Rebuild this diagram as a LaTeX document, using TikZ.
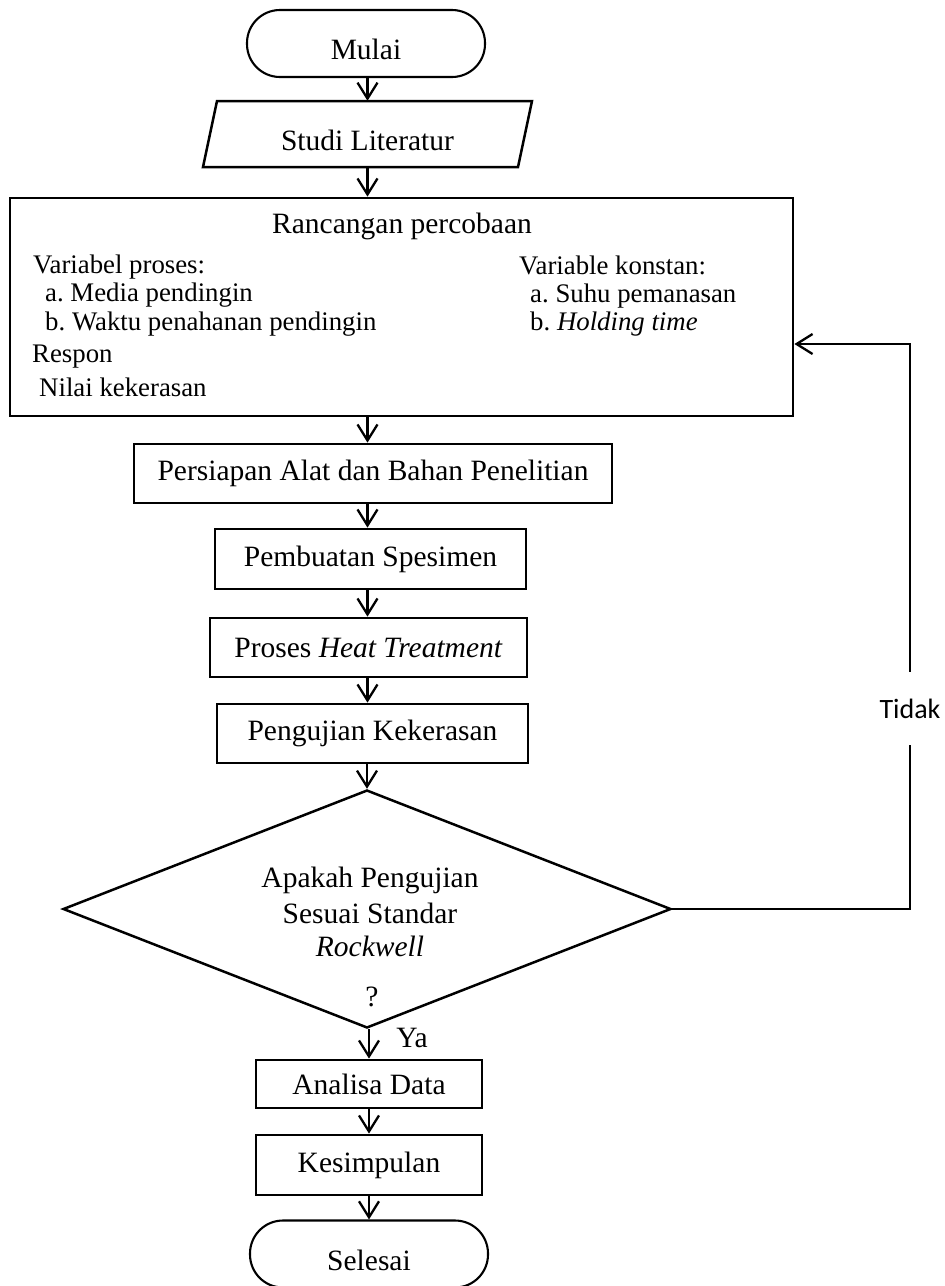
\documentclass[tikz,border=0pt]{standalone}
\usepackage{fontspec}
\setmainfont{Liberation Serif}
\newfontfamily\tidakfont{Carlito}
\usetikzlibrary{arrows.meta,shapes.geometric}
\newcommand\fsbig{\fontsize{29.5}{34}\selectfont}
\newcommand\fssmall{\fontsize{26.8}{31}\selectfont}
\frenchspacing
\begin{document}
\begin{tikzpicture}[x=1pt,y=-1pt,
  every node/.style={font=\fsbig},
  line/.style={line width=2.5pt},
  arr/.style={line width=2.3pt,-{Straight Barb[length=16pt,width=20pt]}},
  term/.style={draw,line width=2.1pt,rounded corners=33pt,minimum width=238pt,minimum height=67pt,inner sep=0pt,text height=32pt,text depth=0pt},
  proc/.style={draw,line width=2.8pt,inner sep=0pt},
  item/.style={font=\fssmall,anchor=base west,inner sep=0pt},
  dtext/.style={inner sep=0pt},
]
\useasboundingbox (0,0) rectangle (945,1286);
\coordinate (ax) at (367.5,0);
\coordinate (bx) at (369,0);

% start
\node[term] (mulai) at (366,43.5) {Mulai};

% Studi Literatur (parallelogram)
\node[minimum width=315pt,minimum height=66pt,inner sep=0pt,text height=32pt,text depth=0pt] (studi) at (367.5,134) {Studi Literatur};
\draw[line] (217,101) -- (532,101) -- (518,167) -- (203,167) -- cycle;

% Rancangan percobaan
\node[proc,minimum width=783pt,minimum height=218pt] (rancang) at (401.5,307) {};
\node[anchor=base,inner sep=0pt] (rtitle) at (402,233) {Rancangan percobaan};
\node[item] (vp) at (33,273) {Variabel proses:};
\node[item] (vpa) at (45,301) {a. Media pendingin};
\node[item] (vpb) at (45,330) {b. Waktu penahanan pendingin};
\node[item] (resp) at (32,362) {Respon};
\node[item] (nk) at (39,396) {Nilai kekerasan};
\node[item] (vk) at (519,274) {Variable konstan:};
\node[item] (vka) at (530,302) {a. Suhu pemanasan};
\node[item] (vkb) at (530,330) {b. \textit{Holding time}};

% process boxes
\node[proc,minimum width=478pt,minimum height=59pt] (prep) at (373,473.5) {Persiapan Alat dan Bahan Penelitian};
\node[proc,minimum width=311pt,minimum height=60pt] (spes) at (370.5,559) {Pembuatan Spesimen};
\node[proc,minimum width=317pt,minimum height=59pt] (heat) at (368.5,647.5) {Proses \textit{Heat Treatment}};
\node[proc,minimum width=311pt,minimum height=59pt] (uji) at (372.5,733.5) {Pengujian Kekerasan};

% decision
\node[diamond,draw,line width=2.5pt,minimum width=608pt,minimum height=238pt,inner sep=0pt] (dec) at (367,909) {};
\node[dtext] (q1) at (370,880) {Apakah Pengujian};
\node[dtext] (q2) at (370,913) {Sesuai Standar};
\node[dtext] (q3) at (370,946) {\textit{Rockwell}};
\node[dtext] (q4) at (372,997) {?};
\node[dtext] (ya) at (412,1038) {Ya};

% end part
\node[proc,minimum width=226pt,minimum height=48pt] (analisa) at (369,1084) {Analisa Data};
\node[proc,minimum width=226pt,minimum height=60pt] (simpul) at (369,1165) {Kesimpulan};
\node[term] (selesai) at (369,1254) {Selesai};

% connectors
\draw[arr] (mulai.south -| ax) -- (studi.north -| ax);
\draw[arr] (studi.south -| ax) -- (rancang.north -| ax);
\draw[arr] (rancang.south -| ax) -- (prep.north -| ax);
\draw[arr] (prep.south -| ax) -- (spes.north -| ax);
\draw[arr] (spes.south -| ax) -- (heat.north -| ax);
\draw[arr] (heat.south -| ax) -- (uji.north -| ax);
\draw[arr] (uji.south -| dec.north) -- (dec.north);
\draw[arr] (dec.south -| bx) -- (analisa.north -| bx);
\draw[arr] (analisa.south -| bx) -- (simpul.north -| bx);
\draw[arr] (simpul.south -| bx) -- (selesai.north -| bx);

% feedback loop
\coordinate (fb1) at (910,909);
\coordinate (fb2) at (910,344);
\node[font={\tidakfont\fontsize{28}{32}\selectfont},minimum height=73pt,inner sep=0pt] (tidak) at (910,708.5) {Tidak};
\draw[line] (dec.east) -- (fb1) -- (tidak.south);
\draw[arr] (tidak.north) -- (fb2) -- (rancang.east |- fb2);
\end{tikzpicture}
\end{document}
